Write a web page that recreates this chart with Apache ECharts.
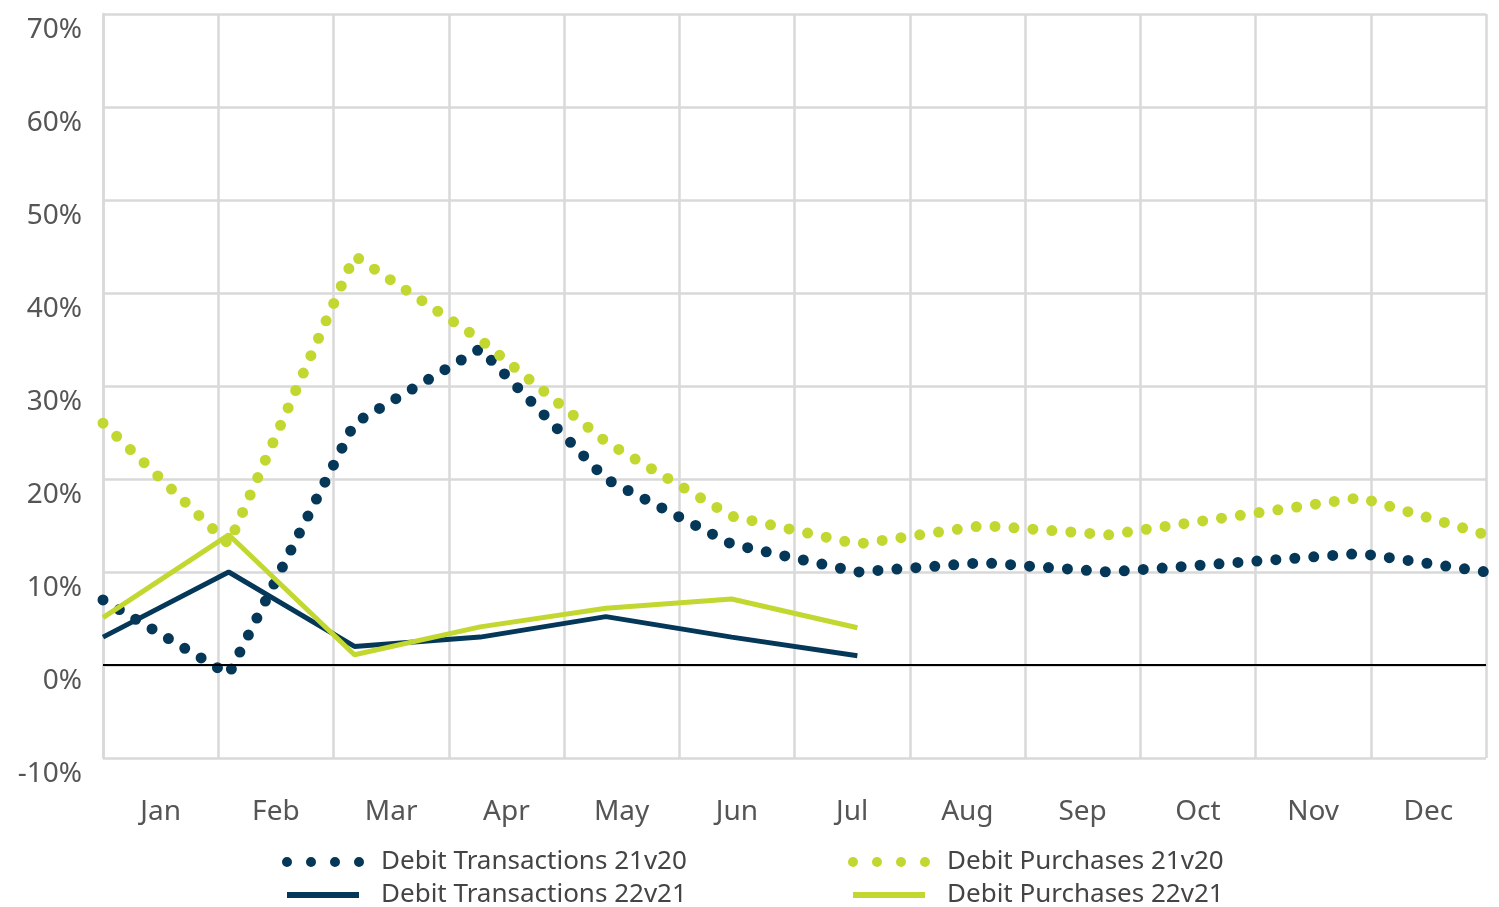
<!DOCTYPE html>
<html>
<head>
<meta charset="utf-8">
<script src="https://cdn.jsdelivr.net/npm/echarts@6/dist/echarts.min.js"></script>
<style>
    html, body {
        margin: 0;
        padding: 0;
        background: #fff;
    }

    #chart {
        width: 1499px;
        height: 907px;
    }
</style>
</head>
<body>
<div id="chart"></div>
<script>
    const months = ['Jan', 'Feb', 'Mar', 'Apr', 'May', 'Jun', 'Jul', 'Aug', 'Sep', 'Oct', 'Nov', 'Dec']
    // points sit on the month edges of a second (hidden) axis
    const points = ['p1', 'p2', 'p3', 'p4', 'p5', 'p6', 'p7', 'p8', 'p9', 'p10', 'p11', 'p12']

    const transactions21v20 = [7, -1, 26, 34, 20, 13, 10, 11, 10, 11, 12, 10]
    const purchases21v20 = [26, 13, 44, 35, 24, 16, 13, 15, 14, 16, 18, 14]
    const transactions22v21 = [3, 10, 2, 3, 5.2, 3, 1]
    const purchases22v21 = [5.1, 14, 1.1, 4.1, 6.1, 7.1, 4]

    const navy = '#053858'
    const lime = '#c2d831'
    const font = 'Noto Sans'

    const dotted = [0, 19]

    // four round dots for the legend
    const dotsIcon = 'path://M0 5A5 5 0 1 0 10 5A5 5 0 1 0 0 5Z' +
        'M24 5A5 5 0 1 0 34 5A5 5 0 1 0 24 5Z' +
        'M48 5A5 5 0 1 0 58 5A5 5 0 1 0 48 5Z' +
        'M72 5A5 5 0 1 0 82 5A5 5 0 1 0 72 5Z'

    function legendItem(name, left, top, dots) {
        return {
            left: left,
            top: top,
            padding: 0,
            itemWidth: dots ? 82 : 72,
            itemHeight: dots ? 10 : 6,
            icon: dots ? dotsIcon : 'rect',
            textStyle: {
                color: '#444',
                fontFamily: font,
                fontSize: 26,
                lineHeight: 30,
                padding: [0, 0, 0, dots ? 12 : 17]
            },
            data: [name]
        }
    }

    const chart = echarts.init(document.getElementById('chart'))

    chart.setOption({
        animation: false,
        grid: {
            left: 103,
            right: 13,
            top: 14,
            bottom: 149
        },
        legend: [
            legendItem('Debit Transactions 21v20', 282, 847, true),
            legendItem('Debit Transactions 22v21', 287, 880, false),
            legendItem('Debit Purchases 21v20', 848, 847, true),
            legendItem('Debit Purchases 22v21', 853, 880, false)
        ],
        xAxis: [
            {
                type: 'category',
                data: months,
                boundaryGap: true,
                axisLine: {lineStyle: {color: '#d9d9d9', width: 2.5}},
                axisTick: {show: false},
                axisLabel: {
                    color: '#555',
                    fontFamily: font,
                    fontSize: 28,
                    margin: 40
                },
                splitLine: {
                    show: true,
                    interval: 0,
                    lineStyle: {color: '#d9d9d9', width: 2.5}
                }
            },
            {
                type: 'category',
                data: points,
                boundaryGap: false,
                show: false
            }
        ],
        yAxis: {
            type: 'value',
            min: -10,
            max: 70,
            interval: 10,
            axisLine: {show: true, lineStyle: {color: '#d9d9d9', width: 2.5}},
            axisTick: {show: false},
            axisLabel: {
                formatter: '{value}%',
                color: '#555',
                fontFamily: font,
                fontSize: 28,
                margin: 21,
                verticalAlign: 'top',
                padding: [2, 0, 0, 0]
            },
            splitLine: {lineStyle: {color: '#d9d9d9', width: 2.5}}
        },
        series: [
            {
                name: 'Debit Transactions 21v20',
                type: 'line',
                xAxisIndex: 1,
                symbol: 'none',
                color: navy,
                lineStyle: {color: navy, width: 11, type: dotted, cap: 'round'},
                data: transactions21v20,
                markLine: {
                    silent: true,
                    symbol: 'none',
                    label: {show: false},
                    lineStyle: {color: '#000', width: 2, type: 'solid'},
                    data: [{yAxis: 0}]
                }
            },
            {
                name: 'Debit Purchases 21v20',
                type: 'line',
                xAxisIndex: 1,
                symbol: 'none',
                color: lime,
                lineStyle: {color: lime, width: 11, type: dotted, cap: 'round'},
                data: purchases21v20
            },
            {
                name: 'Debit Transactions 22v21',
                type: 'line',
                xAxisIndex: 1,
                symbol: 'none',
                color: navy,
                lineStyle: {color: navy, width: 5},
                data: transactions22v21
            },
            {
                name: 'Debit Purchases 22v21',
                type: 'line',
                xAxisIndex: 1,
                symbol: 'none',
                color: lime,
                lineStyle: {color: lime, width: 5},
                data: purchases22v21
            }
        ]
    })
</script>
</body>
</html>
